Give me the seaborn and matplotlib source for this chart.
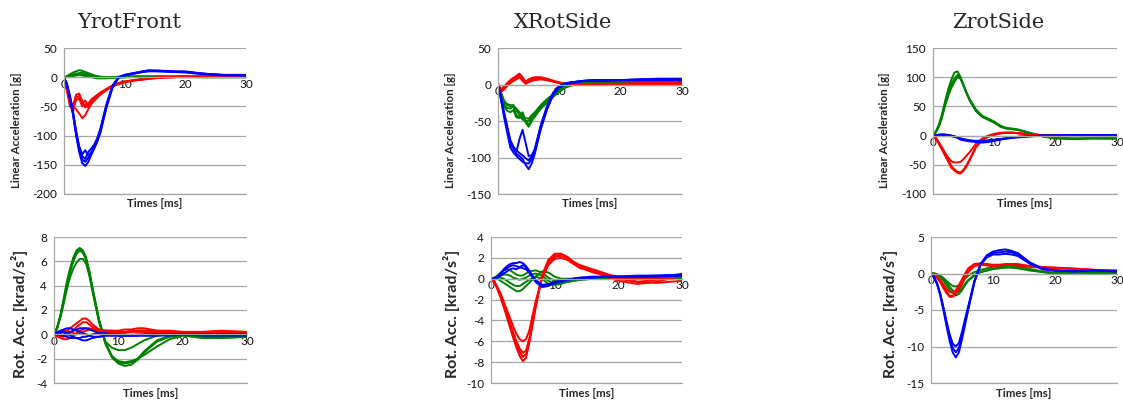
import numpy as np
import pandas as pd
import matplotlib
matplotlib.use('Agg')
import matplotlib.pyplot as plt
import seaborn as sns

# time grid [ms]
T = [0, 0.5, 1, 1.5, 2, 2.5, 3, 3.5, 4, 4.5, 5, 5.5, 6, 7, 8, 9, 10, 11, 12, 13, 14, 16, 18, 20, 23, 26, 30]

# YrotFront - linear acceleration [g]
yrot_lin_green = [
    [0, 2, 5, 8, 10, 12, 11, 9, 7, 5, 3, 2, 1, 0, 0, 1, 1, 1, 1, 1, 1, 1, 1, 1, 1, 1, 1],
    [0, 1, 3, 5, 6, 7, 8, 6, 5, 3, 2, 1, 0, -1, -1, 0, 0, 1, 1, 1, 1, 1, 1, 1, 0, 0, 0],
    [0, 1, 1, 2, 3, 4, 3, 2, 1, 0, -1, -2, -2, -2, -1, 0, 0, 0, 1, 1, 1, 1, 0, 0, 0, 0, 0],
    [0, 1, 2, 3, 4, 5, 5, 4, 3, 2, 1, 0, 0, -1, 0, 0, 0, 1, 1, 1, 1, 1, 1, 1, 1, 1, 1],
]
yrot_lin_red = [
    [0, -25, -50, -58, -35, -32, -45, -40, -48, -42, -36, -32, -28, -21, -15, -11, -8, -6, -5, -4, -3, -1, 0, 1, 1, 1, 1],
    [0, -20, -42, -48, -30, -28, -40, -52, -45, -38, -34, -30, -26, -20, -14, -10, -7, -6, -4, -3, -2, 0, 1, 1, 1, 1, 1],
    [0, -18, -38, -50, -55, -62, -70, -65, -55, -46, -40, -35, -30, -22, -16, -12, -9, -7, -5, -4, -2, 0, 0, 1, 1, 1, 1],
    [0, -22, -45, -52, -40, -36, -50, -46, -52, -44, -38, -33, -29, -21, -15, -11, -8, -6, -5, -3, -2, -1, 0, 1, 1, 1, 1],
]
yrot_lin_blue = [
    [0, -15, -38, -65, -100, -128, -147, -152, -145, -133, -122, -110, -95, -52, -18, -1, 3, 5, 7, 9, 11, 11, 10, 10, 6, 4, 3],
    [0, -12, -33, -60, -92, -118, -132, -125, -135, -128, -118, -105, -90, -48, -15, 0, 4, 6, 8, 10, 12, 11, 10, 9, 6, 4, 3],
    [0, -13, -35, -62, -95, -120, -135, -140, -128, -122, -115, -104, -88, -46, -14, 0, 4, 6, 8, 10, 11, 10, 9, 8, 5, 3, 3],
    [0, -14, -36, -63, -97, -124, -141, -145, -138, -130, -120, -108, -93, -50, -16, -1, 3, 5, 7, 9, 10, 10, 9, 9, 6, 4, 4],
]

# YrotFront - rotational acceleration [krad/s2]
yrot_rot_green = [
    [0, 0.6, 1.6, 2.9, 4.3, 5.4, 6.3, 6.9, 7.1, 6.9, 6.3, 5.2, 3.8, 1.2, -0.8, -1.9, -2.4, -2.6, -2.5, -2.1, -1.5, -0.6, -0.2, -0.1, -0.3, -0.3, -0.2],
    [0, 0.5, 1.5, 2.7, 4.0, 5.1, 6.0, 6.6, 6.9, 6.7, 6.1, 5.0, 3.6, 1.1, -0.7, -1.8, -2.3, -2.4, -2.3, -2.0, -1.4, -0.5, -0.1, 0.0, -0.2, -0.2, -0.2],
    [0, 0.5, 1.4, 2.5, 3.7, 4.7, 5.4, 5.9, 6.2, 6.2, 5.8, 4.8, 3.5, 1.0, -0.6, -1.1, -1.3, -1.3, -1.1, -0.8, -0.5, -0.1, 0.0, 0.0, -0.1, -0.2, -0.1],
    [0, 0.6, 1.5, 2.8, 4.2, 5.3, 6.2, 6.8, 7.0, 6.8, 6.2, 5.1, 3.7, 1.2, -0.7, -1.8, -2.2, -2.3, -2.2, -2.0, -1.7, -1.0, -0.4, -0.1, -0.2, -0.3, -0.2],
]
yrot_rot_red = [
    [0, 0.1, 0.1, 0.2, 0.3, 0.5, 0.7, 0.9, 1.1, 1.3, 1.3, 1.1, 0.8, 0.4, 0.3, 0.3, 0.3, 0.4, 0.4, 0.5, 0.5, 0.3, 0.3, 0.2, 0.2, 0.3, 0.2],
    [0, -0.1, -0.2, -0.2, -0.1, 0.1, 0.3, 0.6, 0.8, 1.0, 1.0, 0.8, 0.6, 0.3, 0.2, 0.2, 0.2, 0.2, 0.3, 0.3, 0.3, 0.2, 0.1, 0.1, 0.1, 0.1, 0.1],
    [0, -0.2, -0.3, -0.4, -0.4, -0.3, -0.1, 0.1, 0.3, 0.4, 0.5, 0.5, 0.4, 0.2, 0.1, 0.1, 0.1, 0.1, 0.2, 0.2, 0.2, 0.1, 0.0, 0.1, 0.1, 0.0, 0.1],
    [0, 0.1, 0.2, 0.3, 0.3, 0.2, 0.1, 0.0, 0.1, 0.2, 0.3, 0.4, 0.5, 0.4, 0.3, 0.3, 0.2, 0.2, 0.2, 0.3, 0.3, 0.3, 0.2, 0.2, 0.2, 0.2, 0.2],
]
yrot_rot_blue = [
    [0, 0.2, 0.3, 0.4, 0.5, 0.5, 0.4, 0.3, 0.2, 0.1, 0.0, -0.1, -0.2, -0.2, -0.1, -0.1, -0.1, -0.1, -0.1, -0.1, -0.1, -0.1, 0.0, 0.0, 0.0, 0.0, 0.0],
    [0, 0.1, 0.2, 0.2, 0.1, -0.1, -0.2, -0.3, -0.4, -0.5, -0.5, -0.4, -0.3, -0.2, -0.1, -0.1, -0.1, -0.1, -0.1, -0.1, 0.0, 0.0, 0.0, 0.0, -0.1, -0.1, -0.1],
    [0, 0.0, -0.1, 0.0, 0.1, 0.2, 0.3, 0.4, 0.5, 0.5, 0.5, 0.4, 0.3, 0.1, 0.0, 0.0, -0.1, -0.1, -0.1, 0.0, 0.0, 0.0, 0.0, 0.0, 0.0, 0.0, 0.0],
    [0, 0.0, 0.0, -0.1, -0.2, -0.3, -0.3, -0.3, -0.3, -0.2, -0.2, -0.1, 0.0, 0.1, 0.1, 0.0, 0.0, -0.1, -0.1, -0.1, -0.1, -0.1, -0.1, 0.0, 0.0, 0.0, 0.0],
]

# XRotSide - linear acceleration [g]
xrot_lin_green = [
    [0, -15, -28, -32, -33, -30, -42, -45, -38, -50, -55, -48, -42, -32, -24, -16, -9, -4, -1, 0, 1, 2, 3, 3, 3, 3, 3],
    [0, -12, -25, -28, -30, -28, -35, -42, -48, -50, -50, -45, -40, -30, -22, -15, -8, -3, 0, 1, 2, 3, 3, 3, 3, 3, 3],
    [0, -16, -30, -36, -38, -35, -45, -46, -44, -52, -58, -50, -44, -33, -25, -17, -10, -4, -1, 0, 1, 2, 3, 3, 3, 3, 3],
    [0, -11, -22, -27, -28, -30, -33, -38, -42, -46, -47, -42, -38, -28, -20, -13, -7, -3, 0, 1, 2, 3, 3, 3, 3, 3, 3],
]
xrot_lin_red = [
    [0, -8, -5, 0, 4, 7, 10, 13, 8, 3, 6, 8, 9, 8, 6, 4, 2, 0, 0, 0, 0, 0, 0, 1, 1, 1, 1],
    [0, -10, -7, -2, 2, 5, 8, 11, 6, 2, 4, 6, 7, 8, 7, 5, 2, 1, 0, 0, 0, 0, 0, 0, 1, 1, 1],
    [0, -6, -3, 2, 6, 9, 12, 15, 10, 4, 7, 9, 10, 10, 8, 5, 3, 1, 0, 0, 0, 1, 1, 1, 2, 2, 2],
    [0, -9, -6, -1, 3, 5, 7, 10, 5, 1, 3, 5, 6, 7, 6, 4, 2, 0, 0, 0, 0, 0, 0, 0, 0, 1, 1],
]
xrot_lin_blue = [
    [0, -20, -43, -62, -80, -88, -95, -98, -102, -110, -116, -108, -95, -60, -33, -13, -3, 1, 3, 4, 5, 6, 6, 6, 7, 8, 8],
    [0, -18, -38, -57, -76, -85, -92, -75, -62, -80, -98, -97, -90, -56, -30, -11, -2, 2, 3, 4, 5, 6, 6, 6, 7, 7, 7],
    [0, -19, -40, -60, -78, -86, -90, -94, -97, -101, -104, -98, -88, -55, -30, -12, -3, 1, 3, 4, 5, 6, 6, 6, 6, 7, 7],
    [0, -21, -45, -66, -86, -93, -98, -102, -106, -108, -108, -102, -92, -60, -34, -14, -4, 0, 2, 3, 5, 5, 5, 6, 6, 6, 6],
]

# XRotSide - rotational acceleration [krad/s2]
xrot_rot_green = [
    [0, 0.1, 0.3, 0.6, 0.8, 0.9, 0.8, 0.6, 0.4, 0.3, 0.3, 0.5, 0.7, 0.8, 0.6, 0.1, -0.2, -0.2, -0.1, 0.0, 0.0, 0.1, 0.1, 0.1, 0.1, 0.1, 0.1],
    [0, 0.0, 0.0, -0.2, -0.4, -0.6, -0.8, -1.0, -1.2, -1.2, -1.0, -0.7, -0.4, 0.2, 0.7, 0.6, 0.2, 0.0, 0.0, 0.0, 0.0, 0.1, 0.1, 0.1, 0.1, 0.1, 0.1],
    [0, 0.0, 0.1, 0.1, 0.0, -0.2, -0.4, -0.6, -0.7, -0.7, -0.5, -0.3, -0.1, 0.2, 0.0, -0.5, -0.6, -0.5, -0.3, -0.2, -0.1, 0.0, 0.0, 0.1, 0.1, 0.1, 0.1],
    [0, 0.1, 0.2, 0.3, 0.4, 0.4, 0.3, 0.1, 0.0, -0.1, 0.0, 0.1, 0.3, 0.5, 0.3, -0.2, -0.5, -0.4, -0.3, -0.2, -0.1, 0.0, 0.1, 0.1, 0.1, 0.1, 0.1],
]
xrot_rot_red = [
    [0, -0.3, -1.0, -1.8, -2.7, -3.7, -4.7, -5.7, -6.6, -7.4, -7.9, -7.6, -6.2, -2.8, 0.3, 1.8, 2.4, 2.4, 2.1, 1.6, 1.2, 0.8, 0.2, -0.2, -0.5, -0.3, 0.3],
    [0, -0.3, -0.9, -1.6, -2.5, -3.4, -4.3, -5.2, -6.0, -6.7, -7.1, -6.9, -5.8, -2.6, 0.2, 1.6, 2.2, 2.3, 2.0, 1.5, 1.1, 0.6, 0.3, 0.0, -0.3, -0.1, 0.5],
    [0, -0.2, -0.8, -1.4, -2.2, -3.0, -3.8, -4.6, -5.3, -5.8, -6.0, -5.8, -5.0, -2.2, 0.0, 1.3, 1.9, 2.0, 1.8, 1.4, 1.0, 0.7, 0.4, 0.2, 0.0, 0.0, 0.2],
    [0, -0.3, -0.9, -1.7, -2.6, -3.5, -4.5, -5.4, -6.3, -7.0, -7.5, -7.2, -6.0, -2.7, 0.1, 1.5, 2.1, 2.2, 2.0, 1.6, 1.3, 0.9, 0.5, 0.1, -0.3, -0.4, -0.2],
]
xrot_rot_blue = [
    [0, 0.0, 0.2, 0.5, 0.9, 1.2, 1.4, 1.5, 1.5, 1.6, 1.5, 1.2, 0.8, -0.2, -0.7, -0.6, -0.3, -0.2, -0.1, 0.0, 0.1, 0.2, 0.2, 0.2, 0.3, 0.3, 0.4],
    [0, 0.0, 0.1, 0.4, 0.8, 1.0, 1.2, 1.3, 1.2, 1.1, 1.0, 0.9, 0.6, -0.1, -0.6, -0.5, -0.4, -0.3, -0.1, 0.0, 0.1, 0.1, 0.2, 0.2, 0.2, 0.3, 0.3],
    [0, 0.0, 0.1, 0.3, 0.5, 0.7, 0.9, 1.0, 0.9, 1.1, 1.3, 1.1, 0.6, -0.3, -0.8, -0.7, -0.4, -0.2, -0.1, 0.0, 0.0, 0.1, 0.2, 0.2, 0.2, 0.2, 0.3],
]

# ZrotSide - linear acceleration [g]
zrot_lin_green = [
    [0, 8, 20, 38, 60, 80, 96, 108, 110, 100, 85, 72, 60, 42, 32, 27, 22, 15, 12, 11, 9, 3, -2, -5, -6, -5, -5],
    [0, 6, 16, 32, 52, 68, 82, 92, 100, 97, 85, 72, 60, 43, 33, 28, 23, 16, 12, 11, 10, 4, -1, -4, -5, -5, -5],
    [0, 7, 18, 35, 56, 74, 88, 98, 104, 98, 86, 73, 62, 45, 34, 29, 24, 17, 13, 12, 10, 4, -1, -4, -5, -4, -4],
]
zrot_lin_red = [
    [0, -5, -15, -25, -35, -45, -55, -60, -64, -65, -60, -52, -42, -20, -8, -2, 1, 4, 5, 5, 4, 1, 1, 1, 0, 0, 0],
    [0, -4, -12, -21, -30, -38, -44, -46, -46, -45, -40, -34, -28, -14, -5, 0, 3, 5, 5, 5, 4, 2, 1, 1, 0, 0, 0],
    [0, -5, -14, -23, -33, -42, -52, -58, -62, -63, -58, -50, -40, -19, -7, -1, 2, 4, 5, 5, 4, 1, 1, 1, 0, 0, 0],
]
zrot_lin_blue = [
    [0, 1, 2, 2, 2, 1, 0, -2, -4, -7, -8, -9, -10, -10, -10, -9, -8, -6, -5, -4, -3, -1, 0, 0, 1, 1, 1],
    [0, 1, 1, 2, 1, 1, 0, -1, -3, -5, -7, -8, -9, -11, -12, -11, -9, -7, -5, -3, -2, -1, 0, 0, 0, 1, 1],
    [0, 0, 1, 1, 1, 0, -1, -2, -3, -5, -6, -7, -8, -9, -9, -8, -7, -6, -4, -3, -2, -1, 0, 0, 1, 1, 1],
]

# ZrotSide - rotational acceleration [krad/s2]
zrot_rot_green = [
    [0, 0.0, -0.1, -0.4, -0.8, -1.3, -1.8, -2.3, -2.6, -2.5, -2.0, -1.4, -0.9, -0.2, 0.2, 0.4, 0.7, 0.8, 0.9, 0.9, 0.8, 0.5, 0.2, 0.0, 0.0, 0.0, 0.0],
    [0, 0.0, -0.1, -0.3, -0.6, -1.0, -1.4, -1.7, -1.8, -1.6, -1.2, -0.7, -0.3, 0.2, 0.5, 0.7, 0.9, 1.0, 1.1, 1.1, 1.0, 0.6, 0.3, 0.1, 0.1, 0.1, 0.1],
    [0, 0.0, -0.2, -0.5, -1.0, -1.6, -2.2, -2.7, -3.0, -2.8, -2.3, -1.6, -1.0, -0.3, 0.2, 0.4, 0.6, 0.7, 0.8, 0.8, 0.7, 0.4, 0.2, 0.0, 0.0, 0.0, 0.0],
]
zrot_rot_red = [
    [0, -0.2, -0.5, -1.1, -1.8, -2.5, -3.0, -3.1, -2.7, -2.0, -1.2, -0.3, 0.5, 1.3, 1.4, 1.3, 1.2, 1.2, 1.3, 1.3, 1.3, 1.0, 0.9, 0.8, 0.7, 0.5, 0.4],
    [0, -0.1, -0.4, -0.9, -1.5, -2.1, -2.5, -2.6, -2.3, -1.6, -0.8, 0.0, 0.7, 1.3, 1.3, 1.2, 1.1, 1.1, 1.2, 1.2, 1.2, 1.0, 0.8, 0.7, 0.6, 0.5, 0.4],
    [0, -0.2, -0.6, -1.2, -2.0, -2.7, -3.2, -3.2, -2.8, -2.2, -1.5, -0.6, 0.2, 1.0, 1.2, 1.1, 1.0, 1.1, 1.2, 1.2, 1.1, 0.9, 0.8, 0.8, 0.6, 0.5, 0.3],
]
zrot_rot_blue = [
    [0, -0.5, -1.5, -3.0, -5.0, -7.2, -9.2, -10.8, -11.5, -10.8, -9.0, -7.0, -5.0, -1.2, 1.3, 2.5, 3.0, 3.2, 3.3, 3.1, 2.8, 1.5, 0.7, 0.4, 0.3, 0.4, 0.3],
    [0, -0.4, -1.4, -2.8, -4.6, -6.5, -8.3, -9.6, -10.0, -9.5, -8.0, -6.2, -4.5, -1.0, 1.2, 2.2, 2.6, 2.6, 2.7, 2.6, 2.4, 1.3, 0.6, 0.4, 0.3, 0.4, 0.3],
    [0, -0.5, -1.5, -2.9, -4.8, -6.8, -8.7, -10.2, -10.8, -10.2, -8.6, -6.6, -4.8, -1.1, 1.3, 2.4, 2.8, 2.9, 3.0, 2.9, 2.6, 1.4, 0.6, 0.4, 0.3, 0.4, 0.3],
]

titles = ['YrotFront', 'XRotSide', 'ZrotSide']
lin_ticks = [[-200, -150, -100, -50, 0, 50], [-150, -100, -50, 0, 50], [-100, -50, 0, 50, 100, 150]]
rot_ticks = [[-4, -2, 0, 2, 4, 6, 8], [-10, -8, -6, -4, -2, 0, 2, 4], [-15, -10, -5, 0, 5]]


def make_df(green, red, blue):
    parts = []
    for name, curves in [('g', green), ('r', red), ('b', blue)]:
        for i, c in enumerate(curves):
            d = pd.DataFrame({'t': T, 'val': c})
            d['series'] = name
            d['run'] = name + str(i)
            parts.append(d)
    return pd.concat(parts, ignore_index=True)


sns.set_style('white')
plt.rcParams['font.family'] = ['Lato', 'DejaVu Sans']
plt.rcParams['axes.unicode_minus'] = False

W, H = 1123, 401
fig = plt.figure(figsize=(W / 100, H / 100), dpi=100)

palette = {'g': '#008000', 'r': '#ff0000', 'b': '#0000ff'}
grid_col = '#a6a6a6'

# pixel boxes: left, right, top, bottom
boxes_top = [(64, 246, 48, 194), (498, 682, 48, 194), (933, 1117, 48, 194)]
boxes_bot = [(54, 247, 237, 383), (491, 682, 237, 383), (931, 1117, 237, 383)]
title_x = [129, 563, 998]
ylab_top_x = [17, 450, 885]
ylab_bot_x = [20, 452, 890]

top_data = [(yrot_lin_green, yrot_lin_red, yrot_lin_blue),
            (xrot_lin_green, xrot_lin_red, xrot_lin_blue),
            (zrot_lin_green, zrot_lin_red, zrot_lin_blue)]
bot_data = [(yrot_rot_green, yrot_rot_red, yrot_rot_blue),
            (xrot_rot_green, xrot_rot_red, xrot_rot_blue),
            (zrot_rot_green, zrot_rot_red, zrot_rot_blue)]


def style_axes(ax, ticks):
    ax.set_xlim(0, 30)
    ax.set_ylim(ticks[0], ticks[-1])
    ax.set_yticks(ticks)
    ax.set_xticks([0, 10, 20, 30])
    ax.grid(axis='y', color=grid_col, lw=0.9)
    ax.grid(axis='x', visible=False)
    ax.axhline(ticks[0], color=grid_col, lw=0.9, clip_on=False, zorder=0)
    ax.set_axisbelow(True)
    for s in ['top', 'right']:
        ax.spines[s].set_visible(False)
    ax.spines['left'].set_color(grid_col)
    ax.spines['left'].set_linewidth(0.9)
    ax.spines['bottom'].set_position(('data', 0))
    ax.spines['bottom'].set_color(grid_col)
    ax.spines['bottom'].set_linewidth(0.9)
    ax.tick_params(axis='x', length=0, labelsize=8.5, pad=1, colors='#111111')
    ax.tick_params(axis='y', length=3, color=grid_col, width=0.9, labelsize=8.5, pad=2, labelcolor='#111111')
    ax.set_ylabel('')
    ax.set_xlabel('Times [ms]', fontsize=8.3, fontweight='bold')


for i in range(3):
    for box, data, ticks, gap in [(boxes_top[i], top_data[i], lin_ticks[i], 4),
                                  (boxes_bot[i], bot_data[i], rot_ticks[i], 5)]:
        l, r, t, b = box
        ax = fig.add_axes([l / W, 1 - b / H, (r - l) / W, (b - t) / H])
        df = make_df(*data)
        sns.lineplot(data=df, x='t', y='val', hue='series', units='run', estimator=None,
                     palette=palette, hue_order=['g', 'r', 'b'], lw=1.4, legend=False, ax=ax)
        style_axes(ax, ticks)
        # Times label sits just under the plot area
        ax.xaxis.set_label_coords(0.5, -gap / (b - t))

    fig.text(title_x[i] / W, 1 - 22 / H, titles[i], family='DejaVu Serif', fontsize=15,
             ha='center', va='center')
    fig.text(ylab_top_x[i] / W, 1 - 130 / H, 'Linear Acceleration [g]', rotation=90,
             fontsize=8.3, fontweight='bold', ha='center', va='center')
    fig.text(ylab_bot_x[i] / W, 1 - 314 / H, 'Rot. Acc. [krad/s²]', rotation=90,
             fontsize=11.5, fontweight='bold', ha='center', va='center')

fig.savefig('out.png', dpi=100)
